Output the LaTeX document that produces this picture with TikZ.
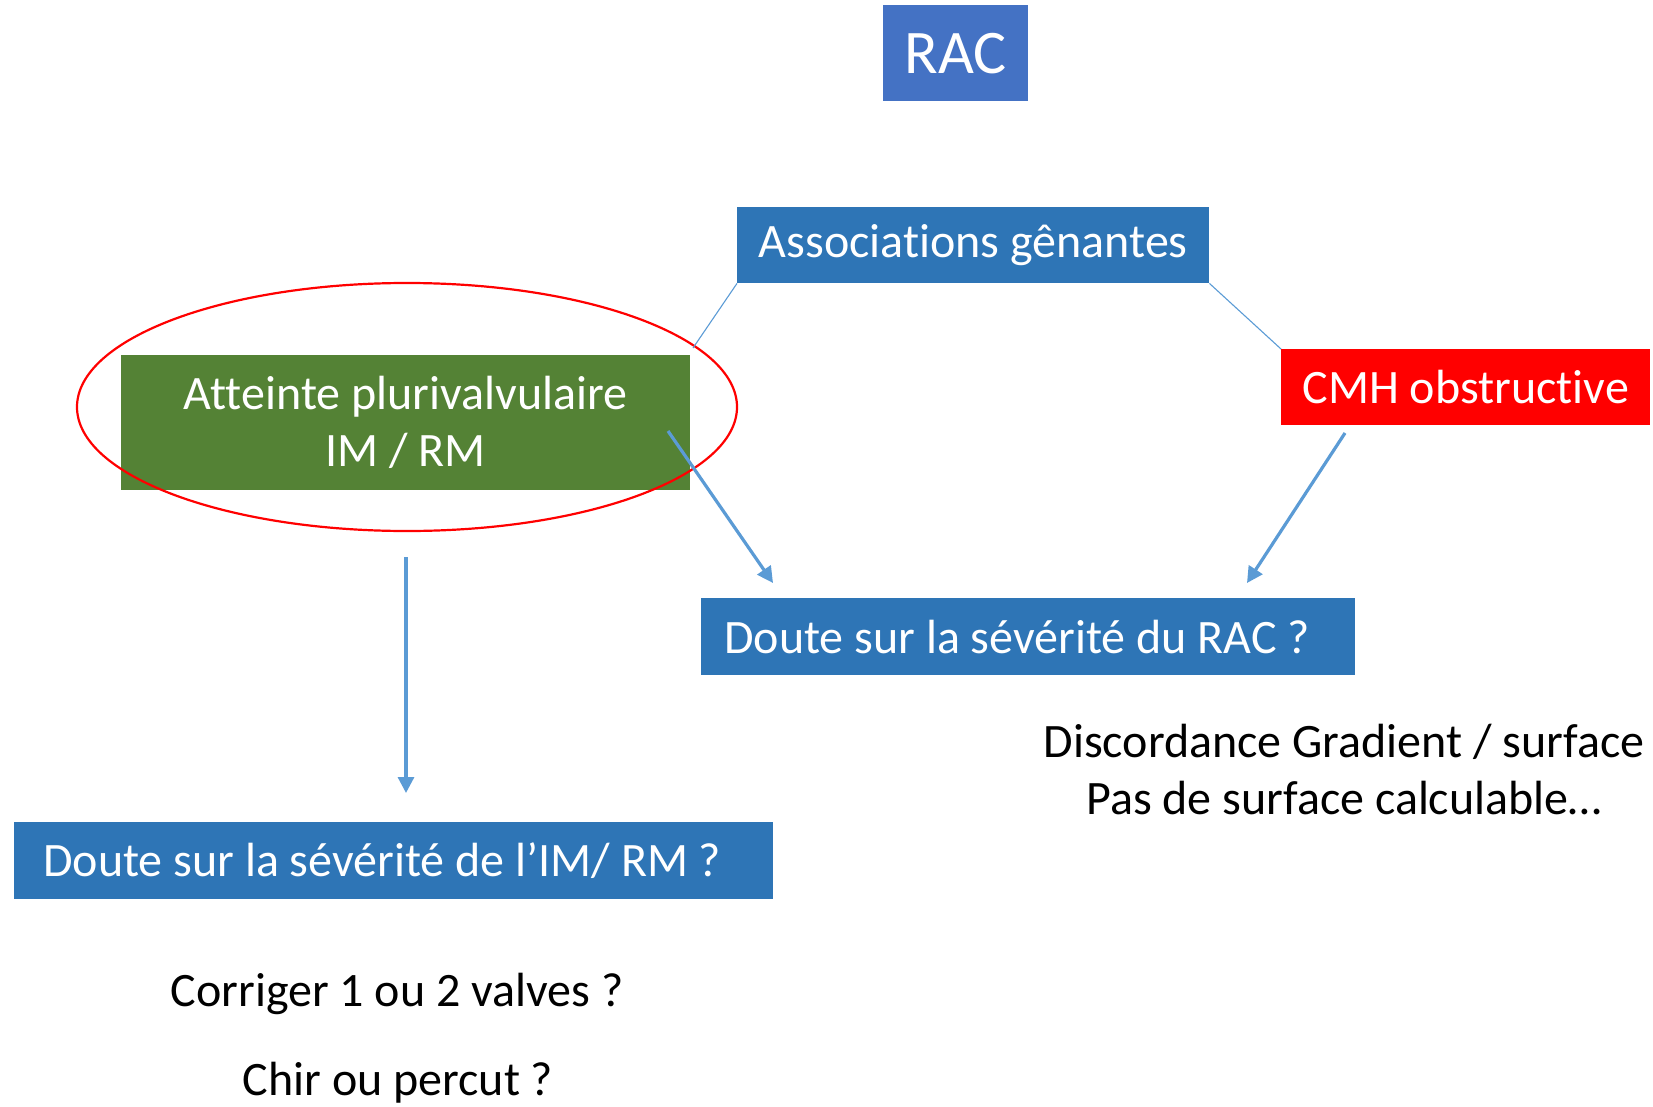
\documentclass[tikz,border=0pt]{standalone}
\usepackage{fontspec}
\setmainfont{Carlito}[Ligatures={NoCommon}]
\usetikzlibrary{arrows.meta}
\definecolor{racblue}{HTML}{4472C4}
\definecolor{boxblue}{HTML}{2E75B6}
\definecolor{boxgreen}{HTML}{548235}
\definecolor{boxred}{HTML}{FF0000}
\definecolor{linkblue}{HTML}{5B9BD5}
\tikzset{
  box/.style={rectangle, anchor=north west, inner sep=0pt, text=white, font={\fontsize{48}{57}\selectfont}},
  boxtext/.style={anchor=west, inner sep=0pt, text=white, font={\fontsize{48}{57}\selectfont}},
  plain/.style={text=black, font={\fontsize{48}{57}\selectfont}, inner sep=0pt},
  link/.style={draw=linkblue, line width=1.1pt},
  arr/.style={draw=linkblue, line width=3.2pt, -{Triangle[length=16pt,width=16pt]}},
}
\begin{document}
\begin{tikzpicture}[x=1pt,y=-1pt]
\useasboundingbox (0,0) rectangle (1653,1107);
% boxes
\node[box, fill=racblue, minimum width=145pt, minimum height=96pt, font={\fontsize{62}{70}\selectfont}] (rac) at (883,5) {RAC};
\node[box, fill=boxblue, minimum width=472pt, minimum height=76pt] (assoc) at (737,207) {Associations gênantes};
\node[box, fill=boxred, minimum width=369pt, minimum height=76pt] (cmh) at (1281,349) {CMH obstructive};
\node[box, fill=boxgreen, minimum width=569pt, minimum height=135pt, align=center] (plur) at (121,355) {Atteinte plurivalvulaire\\IM / RM};
\node[box, fill=boxblue, minimum width=654pt, minimum height=77pt] (drac) at (701,598) {};
\node[boxtext] (dract) at ([xshift=23pt]drac.west) {Doute sur la sévérité du RAC ?};
\node[box, fill=boxblue, minimum width=759pt, minimum height=77pt] (dim) at (14,822) {};
\node[boxtext] (dimt) at ([xshift=29pt]dim.west) {Doute sur la sévérité de l’IM/ RM ?};
% plain texts
\node[plain, align=center] (disc) at (1344,770) {Discordance Gradient / surface\\Pas de surface calculable…};
\node[plain] (corr) at (397,994) {Corriger 1 ou 2 valves ?};
\node[plain] (chir) at (398,1083) {Chir ou percut ?};
% ellipse
\draw[boxred, line width=2.2pt] (407,407) ellipse [x radius=330pt, y radius=124pt];
% connectors
\coordinate (leftend) at (693,348);
\coordinate (a1s) at (668,431);
\coordinate (a1e) at (773,583);
\coordinate (a2s) at (1345,433);
\coordinate (a2e) at (1247,583);
\coordinate (a3s) at (406,557);
\coordinate (a3e) at (406,793);
\draw[link] (assoc.south west) -- (leftend);
\draw[link] (assoc.south east) -- (cmh.north west);
\draw[arr] (a1s) -- (a1e);
\draw[arr] (a2s) -- (a2e);
\draw[arr] (a3s) -- (a3e);
\end{tikzpicture}
\end{document}
